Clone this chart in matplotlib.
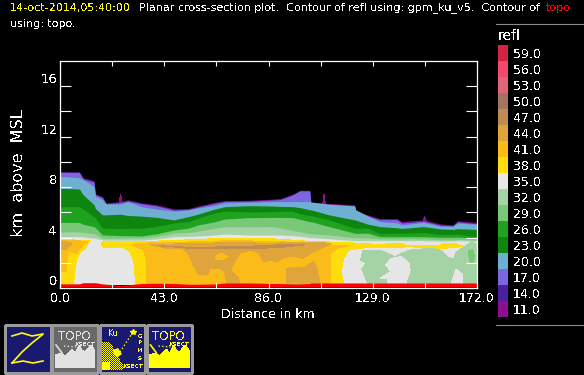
import numpy as np
import matplotlib
matplotlib.use('Agg')
import matplotlib.pyplot as plt
from matplotlib.patches import Rectangle, Polygon

plt.rcParams['font.family'] = ['DejaVu Sans']
plt.rcParams['text.antialiased'] = False

W, H = 584, 375

# legend
levels = [59, 56, 53, 50, 47, 44, 41, 38, 35, 32, 29, 26, 23, 20, 17, 14, 11]
level_colors = ['#D2233F', '#F0486F', '#E0647A', '#A6745C', '#C08C50', '#E0A53A',
                '#FBBC1A', '#FFDD0A', '#E6E6E6', '#A6D3A6', '#78C878', '#1FA31F',
                '#0E850E', '#6FB0D2', '#7B68E0', '#4B1FA0', '#8B0F8F']
col = dict(zip(levels, level_colors))

dist_km = [0, 8, 9.5, 14, 14.6, 17.5, 19, 25, 28, 33.6, 40, 47, 53, 57, 64, 68, 78, 88, 91, 96,
           99, 103, 103.5, 111, 121.5, 122, 127, 132, 139, 141, 150, 157, 162, 164, 172]
top11 = [9.2, 9.2, 8.75, 8.5, 7.45, 7.25, 6.75, 6.85, 7.0, 6.75, 6.6, 6.27, 6.3, 6.5, 6.8, 6.93, 6.95, 7.05, 7.1, 7.45,
         7.75, 7.75, 6.8, 6.7, 6.6, 5.95, 5.8, 5.5, 5.5, 5.27, 5.4, 5.08, 5.0, 5.33, 5.2]
top14 = [9.2, 9.2, 8.7, 8.45, 7.45, 7.2, 6.7, 6.8, 6.95, 6.7, 6.55, 6.22, 6.25, 6.45, 6.75, 6.9, 6.9, 7.0, 7.05, 7.4,
         7.72, 7.72, 6.75, 6.65, 6.55, 5.9, 5.72, 5.45, 5.45, 5.2, 5.32, 5.02, 4.95, 5.28, 5.15]
top17 = [9.18, 9.15, 8.65, 8.4, 7.4, 7.15, 6.68, 6.78, 6.9, 6.68, 6.5, 6.18, 6.22, 6.42, 6.72, 6.87, 6.88, 6.98, 7.02, 7.38,
         7.7, 7.7, 6.72, 6.62, 6.52, 5.87, 5.68, 5.42, 5.42, 5.15, 5.3, 4.98, 4.92, 5.24, 5.1]
top20 = [8.85, 8.75, 8.6, 8.05, 7.25, 7.0, 6.66, 6.66, 6.85, 6.45, 6.25, 6.1, 6.2, 6.35, 6.55, 6.75, 6.8, 6.85, 6.85, 6.85,
         6.85, 6.85, 6.82, 6.65, 6.5, 6.2, 5.72, 5.26, 5.16, 5.0, 5.2, 4.9, 4.9, 5.15, 5.05]
top23 = [7.9, 7.85, 7.4, 6.6, 6.3, 5.8, 5.8, 5.85, 5.75, 5.7, 5.6, 5.4, 5.66, 5.86, 6.27, 6.45, 6.53, 6.5, 6.47, 6.45,
         6.38, 6.2, 6.2, 5.8, 5.4, 5.38, 5.06, 4.87, 4.78, 4.72, 4.87, 4.68, 4.65, 4.7, 4.65]
top26 = [6.45, 6.45, 6.25, 5.66, 5.55, 4.75, 4.75, 4.72, 4.75, 4.75, 4.9, 5.15, 5.26, 5.55, 5.95, 6.1, 6.03, 6.06, 6.08, 6.1,
         5.88, 5.75, 5.75, 5.4, 4.75, 4.74, 4.75, 4.3, 4.35, 4.33, 4.4, 4.25, 4.25, 4.28, 4.07]
top29 = [5.2, 5.2, 5.05, 4.87, 4.8, 4.2, 4.2, 4.15, 4.15, 4.13, 4.3, 4.6, 4.75, 5.0, 5.26, 5.47, 5.58, 5.6, 5.6, 5.58,
         5.45, 5.26, 5.26, 4.87, 4.35, 4.33, 4.35, 4.07, 4.07, 4.07, 4.07, 4.02, 4.02, 4.03, 3.97]
top32 = [4.45, 4.45, 4.4, 4.3, 4.25, 3.95, 3.95, 3.95, 3.97, 3.97, 4.1, 4.36, 4.4, 4.5, 4.75, 4.84, 4.84, 4.87, 4.75, 4.55,
         4.47, 4.3, 4.3, 4.2, 3.98, 3.98, 3.98, 3.9, 3.9, 3.9, 3.9, 3.82, 3.82, 3.85, 3.8]
top35 = [4.07, 4.07, 4.05, 3.95, 3.95, 3.8, 3.8, 3.8, 3.8, 3.8, 3.9, 4.07, 4.1, 4.13, 4.2, 4.28, 4.2, 4.2, 4.2, 4.15,
         4.1, 4.0, 4.0, 3.9, 3.75, 3.75, 3.75, 3.75, 3.75, 3.75, 3.75, 3.72, 3.72, 3.75, 3.72]
topo_top = [0.33, 0.33, 0.42, 0.42, 0.42, 0.33, 0.3, 0.22, 0.25, 0.36, 0.38, 0.36, 0.3, 0.3, 0.32, 0.4, 0.4, 0.36, 0.36, 0.32,
            0.32, 0.36, 0.4, 0.4, 0.4, 0.4, 0.4, 0.4, 0.4, 0.4, 0.4, 0.4, 0.4, 0.4, 0.4]
topo_bottom = [0.1] * len(dist_km)

# thin spikes on the echo top
spike_x = [[24.4, 25, 25.6], [108.4, 108.9, 109.4], [149.8, 150.4, 151]]
spike_y = [[6.8, 7.4, 6.8], [6.7, 7.4, 6.7], [5.35, 5.7, 5.35]]

# patches below the melting level, (km, km above MSL)
yellow_x = [0, 0, 14, 25, 40, 57, 68, 88, 103, 111, 121, 132, 132, 126, 119, 117, 116, 117]
yellow_y = [0.3, 3.85, 3.75, 3.65, 3.72, 3.85, 3.95, 3.9, 3.7, 3.65, 3.57, 3.45, 3.22, 3.2, 3.0, 2.35, 1.3, 0.3]
yellow2_x = [130, 135, 137, 141.5, 143.5, 156, 158, 163.5, 166, 163.5, 157, 143, 141, 135, 130]
yellow2_y = [3.4, 3.5, 3.52, 3.5, 3.35, 3.35, 3.5, 3.5, 3.32, 3.2, 3.15, 3.28, 3.2, 3.2, 3.3]
grey_x = [6, 6.5, 7.2, 8.5, 11, 13, 17, 16.5, 18, 26, 28.5, 30, 30.8]
grey_y = [0.3, 1.2, 2.2, 2.7, 3.1, 3.75, 3.75, 3.4, 3.1, 3.1, 2.8, 2.0, 0.3]
orange_left_x = [0, 11.5, 8, 7, 3.5, 2.5, 0]
orange_left_y = [3.8, 3.7, 3.1, 2.7, 2.95, 1.3, 1.3]
tan_left_x = [0, 5, 3, 0]
tan_left_y = [3.7, 3.6, 3.1, 3.0]
orange_x = [35.5, 35.5, 34.5, 30, 31, 45, 70, 90, 103, 115, 120, 114.2, 111.4, 111.4]
orange_y = [0.3, 2.2, 3.0, 3.4, 3.55, 3.6, 3.75, 3.7, 3.5, 3.35, 3.4, 3.15, 2.65, 0.3]
tan_x = [37, 43.3, 50.2, 52.9, 55, 57, 61, 61.9, 66, 67.8, 68.8, 74.2, 73.6, 70.2, 74.2, 78.4, 81.8, 83.8, 88, 89.4,
         92.1, 96.3, 100.4, 104.5, 110.7, 112, 100, 88, 70, 50]
tan_y = [3.45, 3.15, 3.15, 2.75, 1.83, 1.09, 1.09, 1.56, 1.56, 1.3, 0.3, 0.3, 0.77, 1.43, 2.75, 3.0, 2.82, 2.09, 2.2, 2.05,
         2.4, 2.5, 2.35, 2.88, 3.4, 3.55, 3.65, 3.55, 3.6, 3.5]
tan2_x = [93.5, 93.5, 95, 101, 104.5, 105.9, 107.3]
tan2_y = [0.3, 1.5, 1.6, 1.65, 2.09, 1.56, 0.3]
hole_x = [64, 66.5, 69.3, 67, 64.5]
hole_y = [2.5, 2.75, 2.5, 2.27, 2.27]
brown_x = [41, 53.6, 75, 90, 101, 90, 75, 55]
brown_y = [3.35, 3.22, 3.28, 3.42, 3.42, 3.2, 3.1, 3.12]
green32_x = [125, 132, 138.2, 144, 153, 157, 159.5, 162.4, 163.4, 170, 172, 172, 127, 124.5, 126.5, 124]
green32_y = [2.97, 3.0, 2.49, 3.0, 3.15, 3.0, 2.5, 2.25, 2.83, 3.7, 3.4, 0.3, 0.3, 1.5, 2.0, 2.2]
grey2_x = [134.4, 136.5, 140.8, 144, 144.4, 142.8, 142.8, 134.9, 135.4, 132, 136.4]
grey2_y = [1.83, 2.35, 2.49, 1.96, 1.43, 0.5, 0.3, 0.3, 0.77, 0.77, 1.3]
grey3_x = [161.3, 163.3, 166, 166]
grey3_y = [0.3, 1.5, 1.1, 0.3]
green29_x = [168.3, 170.3, 171, 170, 169]
green29_y = [2.95, 3.05, 2.4, 2.0, 2.2]

x_ticks = [0, 43, 86, 129, 172]
x_minor = [21.5, 64.5, 107.5, 150.5]
y_ticks = [0, 4, 8, 12, 16]
y_minor = [2, 6, 10, 14]

fig = plt.figure(figsize=(W/100, H/100), dpi=100, facecolor='black')

# overlay in pixel coordinates for the labels, legend and buttons
over = fig.add_axes([0, 0, 1, 1], facecolor='none')
over.set_xlim(0, W)
over.set_ylim(H, 0)
over.axis('off')

ax = fig.add_axes([60/W, 1 - 288/H, 417/W, 227/H], facecolor='black')
ax.set_xlim(0, 172)
ax.set_ylim(0, 18)

for sx, sy in zip(spike_x, spike_y):
    ax.fill(sx, sy, color=col[11], lw=0, antialiased=False)

bands = [(11, top11), (14, top14), (17, top17), (20, top20), (23, top23),
         (26, top26), (29, top29), (32, top32), (35, top35)]
for lev, top in bands:
    ax.fill_between(dist_km, 0.3, top, color=col[lev], lw=0, antialiased=False)

patches = [(yellow_x, yellow_y, 38), (yellow2_x, yellow2_y, 38), (green32_x, green32_y, 32),
           (grey2_x, grey2_y, 35), (grey3_x, grey3_y, 35), (green29_x, green29_y, 29),
           (orange_left_x, orange_left_y, 41), (tan_left_x, tan_left_y, 44),
           (orange_x, orange_y, 41), (tan_x, tan_y, 44), (tan2_x, tan2_y, 44),
           (hole_x, hole_y, 41), (brown_x, brown_y, 47), (grey_x, grey_y, 35)]
for px, py, lev in patches:
    ax.fill(px, py, color=col[lev], lw=0, antialiased=False)

ax.fill_between(dist_km, topo_bottom, topo_top, color='#FF0000', lw=0, antialiased=False)

for s in ax.spines.values():
    s.set_color('white')
    s.set_linewidth(0.9)

ax.set_xticks(x_ticks)
ax.set_xticks(x_minor, minor=True)
ax.set_yticks(y_ticks)
ax.set_yticks(y_minor, minor=True)
ax.tick_params(axis='x', which='both', direction='in', top=True, length=3.8, width=0.8, color='white')
ax.tick_params(axis='y', which='both', direction='in', right=True, length=7.6, width=0.8, color='white')
ax.set_xticklabels(['%.1f' % v for v in x_ticks], color='white', fontsize=9)
ax.set_yticklabels([str(v) for v in y_ticks], color='white', fontsize=9.5)
ax.tick_params(axis='x', pad=3)
ax.tick_params(axis='y', pad=2)
for lab in ax.get_yticklabels():
    lab.set_verticalalignment('bottom')

over.text(268, 315, 'Distance in km', color='white', fontsize=9, ha='center', va='center')
over.text(19, 173, 'km  above  MSL', color='white', fontsize=11.5, rotation=90, ha='center', va='center')

# title
over.text(10, 8, '14-oct-2014,05:40:00', color='#FFFF00', fontsize=8, ha='left', va='center')
over.text(139, 8, 'Planar cross-section plot.  Contour of refl using: gpm_ku_v5.  Contour of',
          color='white', fontsize=8, ha='left', va='center')
over.text(546, 8, 'topo', color='#FF0000', fontsize=8, ha='left', va='center')
over.text(10, 24, 'using: topo.', color='white', fontsize=8, ha='left', va='center')

# legend
over.plot([496, W], [23.5, 23.5], color='#8C8C8C', lw=0.8)
over.plot([496, W], [324.5, 324.5], color='#8C8C8C', lw=0.8)
over.text(498, 36, 'refl', color='white', fontsize=10, ha='left', va='center')
for i, (lev, c) in enumerate(zip(levels, level_colors)):
    over.add_patch(Rectangle((498, 45 + 16*i), 10, 16, fc=c, ec='none', antialiased=False))
    over.text(513, 54 + 16*i, '%.1f' % lev, color='white', fontsize=9, ha='left', va='center')

# buttons
NAVY = '#191970'
YEL = '#FFFF00'
def button(x0, fill=NAVY):
    over.add_patch(Rectangle((x0, 325), 45.5, 47.5, fc=fill, ec='#9A9A9A', lw=1.0, antialiased=False))

def topo_icon(x0, c):
    ridge = [(3, 43), (3, 30), (9, 28), (13, 31), (17, 27), (20, 24), (23, 28), (27, 20), (30, 25),
             (33, 27), (36, 23), (39, 20), (42, 24), (43, 26), (43, 43)]
    over.add_patch(Polygon([(x0 + a, 325 + b) for a, b in ridge], fc=c, ec='none', antialiased=False))
    over.text(x0 + 22, 336, 'TOPO', color=c, fontsize=8.5, ha='center', va='center')
    over.text(x0 + 33, 344, 'XSECT', color=c, fontsize=4.2, ha='center', va='center', fontweight='bold')
    over.plot([x0 + 4, x0 + 10], [345, 353], color=c, lw=1.2)
    over.plot([x0 + 12, x0 + 24], [346, 347], color=c, lw=1, ls=':')

button(5)
over.plot([12, 22, 32, 43], [336, 333, 336, 334], color=YEL, lw=1.2)
over.plot([42, 32, 22, 12], [335, 343, 352, 363], color=YEL, lw=1.2)
over.plot([12, 23, 33, 43], [363, 361, 363, 361], color=YEL, lw=1.2)

button(52, '#696969')
topo_icon(52, '#E2E2E2')

button(99.5)
check = np.zeros((28, 21, 4))
yy, xx = np.mgrid[0:28, 0:21]
check[..., :3] = (1, 1, 0)
check[..., 3] = ((xx + yy) % 2 == 0) & (xx < 8 + yy*0.55)
over.imshow(check, extent=(102, 123, 370, 342), interpolation='nearest', zorder=3, aspect='auto')
over.set_xlim(0, W)
over.set_ylim(H, 0)
over.add_patch(Rectangle((102, 362), 8, 8, fc=YEL, ec='none', zorder=4))
over.add_patch(Polygon([(113, 350), (118, 348), (122, 354), (118, 357), (114, 355)], fc=YEL, ec='none', zorder=4))
over.plot([120, 133], [352, 332], color=YEL, lw=1, ls=':', zorder=4)
over.plot([133], [332], marker='*', color=YEL, ms=4, zorder=4)
over.text(113, 334, 'Ku', color=YEL, fontsize=5.5, ha='center', va='center', zorder=4)
for ch, yp in zip('GPMS', [336, 343, 350, 358]):
    over.text(140, yp, ch, color=YEL, fontsize=4.6, ha='center', va='center', zorder=4)
over.text(133, 367, 'XSECT', color=YEL, fontsize=4.2, fontweight='bold', ha='center', va='center', zorder=4)

button(146.5)
topo_icon(146.5, YEL)

fig.savefig('out.png', dpi=100, facecolor='black')
